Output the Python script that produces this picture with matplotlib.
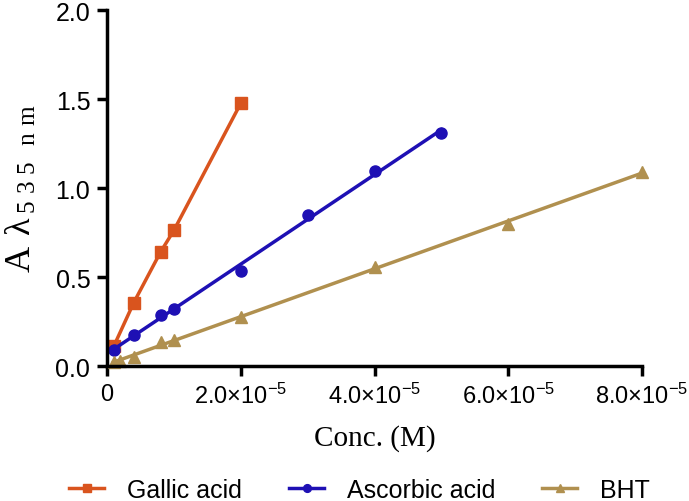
import matplotlib
matplotlib.use("Agg")
import matplotlib.pyplot as plt
import numpy as np

plt.rcParams['mathtext.fontset'] = 'custom'
plt.rcParams['mathtext.rm'] = 'Liberation Serif'
plt.rcParams['mathtext.sf'] = 'Liberation Sans'
plt.rcParams['font.family'] = 'Liberation Sans'

# data
gallic_x = [1e-6, 4e-6, 8e-6, 1e-5, 2e-5]
gallic_y = [0.11, 0.356, 0.64, 0.762, 1.476]

ascorbic_x = [1e-6, 4e-6, 8e-6, 1e-5, 2e-5, 3e-5, 4e-5, 5e-5]
ascorbic_y = [0.088, 0.172, 0.285, 0.322, 0.534, 0.847, 1.095, 1.31]

bht_x = [1e-6, 2e-6, 4e-6, 8e-6, 1e-5, 2e-5, 4e-5, 6e-5, 8e-5]
bht_y = [0.022, 0.03, 0.048, 0.135, 0.145, 0.275, 0.555, 0.80, 1.09]

xticks = [0, 2e-5, 4e-5, 6e-5, 8e-5]
xticklabels = ['0', r'$\mathsf{2.0{\times}10^{-5}}$', r'$\mathsf{4.0{\times}10^{-5}}$',
               r'$\mathsf{6.0{\times}10^{-5}}$', r'$\mathsf{8.0{\times}10^{-5}}$']
yticks = [0.0, 0.5, 1.0, 1.5, 2.0]

c_gallic = '#D9541E'
c_asc = '#1E10B4'
c_bht = '#B0904F'

fig = plt.figure(figsize=(6.89, 5.02), dpi=100)
ax = fig.add_axes([0.1553, 0.2689, 0.7765, 0.7091])

# gallic acid: points joined
ax.plot(gallic_x, gallic_y, color=c_gallic, lw=2.5, marker='s', ms=8,
        clip_on=False, label='Gallic acid')

# ascorbic acid and BHT: linear fit lines through the points
for xs, ys, col, mk, lab in [(ascorbic_x, ascorbic_y, c_asc, 'o', 'Ascorbic acid'),
                             (bht_x, bht_y, c_bht, '^', 'BHT')]:
    k, b = np.polyfit(xs, ys, 1)
    xx = np.array([min(xs), max(xs)])
    ax.plot(xx, k * xx + b, color=col, lw=2.5, clip_on=False)
    ax.plot(xs, ys, ls='none', color=col, marker=mk, ms=8, clip_on=False)
    ax.plot([], [], color=col, lw=2.5, marker=mk, ms=8, label=lab)

ax.set_xlim(0, 8e-5)
ax.set_ylim(0, 2.0)
ax.set_xticks(xticks)
ax.set_xticklabels(xticklabels)
ax.set_yticks(yticks)
ax.set_yticklabels(['%.1f' % v for v in yticks])

for s in ['top', 'right']:
    ax.spines[s].set_visible(False)
for s in ['left', 'bottom']:
    ax.spines[s].set_linewidth(2.5)
ax.tick_params(width=2.5, length=7, direction='out', pad=5)
ax.tick_params(axis='x', labelsize=17)
ax.tick_params(axis='y', labelsize=18)

ax.set_xlabel('Conc. (M)', family='Liberation Serif', fontsize=21, labelpad=12)
ax.set_ylabel(r'$\mathrm{A\ \lambda_{\,5\;3\;5\ \ n\;m}}$', fontsize=26)
ax.yaxis.set_label_coords(-0.128, 0.5)

ax.legend(loc='center', bbox_to_anchor=(0.472, -0.348), ncol=3, frameon=False,
          fontsize=18, handlelength=1.4, columnspacing=1.9, handletextpad=0.9,
          markerscale=0.7, borderpad=0.2)

fig.savefig('out.png', dpi=100)
